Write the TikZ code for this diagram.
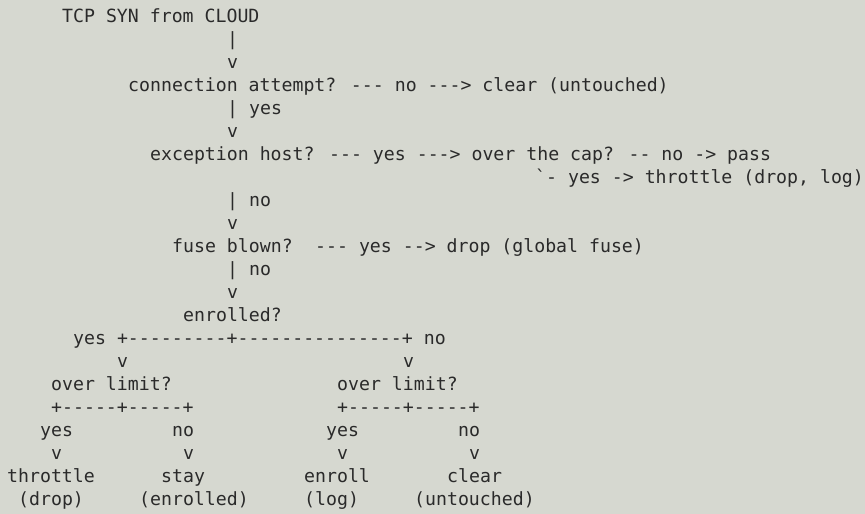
\documentclass[tikz,border=0pt]{standalone}
\usepackage{fontspec}
\newfontfamily\mono{DejaVu Sans Mono}
\definecolor{bg}{HTML}{D6D8D0}
\definecolor{ink}{HTML}{2A2A2A}
\newcommand{\Lt}[4]{\node[txt] (#1) at ({7+11*#2},{514-(23+23*#3)}) {#4};}
\begin{document}
\begin{tikzpicture}[x=1pt,y=1pt,
  txt/.style={anchor=base west,inner sep=0pt,text=ink,font=\mono\fontsize{18.2}{20}\selectfont}]
\fill[bg] (0,0) rectangle (865,514);
\useasboundingbox (0,0) rectangle (865,514);
\Lt{a}{5}{0}{TCP SYN from CLOUD}
\Lt{b}{20}{1}{|}
\Lt{c}{20}{2}{v}
\Lt{d}{11}{3}{connection attempt? --- no ---> clear (untouched)}
\Lt{e}{20}{4}{| yes}
\Lt{f}{20}{5}{v}
\Lt{g}{13}{6}{exception host? --- yes ---> over the cap? -- no -> pass}
\Lt{h}{48}{7}{`- yes -> throttle (drop, log)}
\Lt{i}{20}{8}{| no}
\Lt{j}{20}{9}{v}
\Lt{k}{15}{10}{fuse blown?}
\Lt{k2}{28}{10}{--- yes --> drop (global fuse)}
\Lt{l}{20}{11}{| no}
\Lt{m}{20}{12}{v}
\Lt{n}{16}{13}{enrolled?}
\Lt{o}{6}{14}{yes +---------+---------------+ no}
\Lt{p1}{10}{15}{v}
\Lt{p2}{36}{15}{v}
\Lt{q1}{4}{16}{over limit?}
\Lt{q2}{30}{16}{over limit?}
\Lt{r1}{4}{17}{+-----+-----+}
\Lt{r2}{30}{17}{+-----+-----+}
\Lt{s1}{3}{18}{yes}
\Lt{s2}{15}{18}{no}
\Lt{s3}{29}{18}{yes}
\Lt{s4}{41}{18}{no}
\Lt{t1}{4}{19}{v}
\Lt{t2}{16}{19}{v}
\Lt{t3}{30}{19}{v}
\Lt{t4}{42}{19}{v}
\Lt{u1}{0}{20}{throttle}
\Lt{u2}{14}{20}{stay}
\Lt{u3}{27}{20}{enroll}
\Lt{u4}{40}{20}{clear}
\Lt{w1}{1}{21}{(drop)}
\Lt{w2}{12}{21}{(enrolled)}
\Lt{w3}{27}{21}{(log)}
\Lt{w4}{37}{21}{(untouched)}
\end{tikzpicture}
\end{document}
